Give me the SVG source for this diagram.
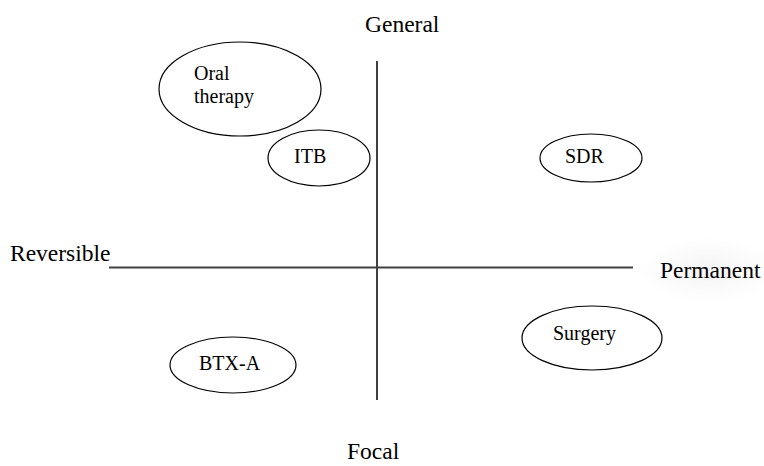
<svg xmlns="http://www.w3.org/2000/svg" width="764" height="466" viewBox="0 0 764 466">
<style>
text{font-family:"Liberation Serif","Times New Roman",serif;fill:#000}
.node{font-size:20px}
.axis{font-size:23.5px}
ellipse.n{fill:#fff;stroke:#000;stroke-width:1.2}
line{stroke:#404040;stroke-width:2}
</style>
<defs>
<radialGradient id="glow" cx="50%" cy="50%" r="50%">
<stop offset="0" stop-color="#f4f4f4"/>
<stop offset="1" stop-color="#ffffff"/>
</radialGradient>
</defs>
<rect width="764" height="466" fill="#fff"/>
<g id="connectors">
<line x1="109" y1="267.5" x2="633" y2="267.5"/>
<line x1="377" y1="61" x2="377" y2="400"/>
</g>
<g id="axis-labels">
<text class="axis" x="365" y="32">General</text>
<text class="axis" x="347" y="459">Focal</text>
<text class="axis" x="10" y="261">Reversible</text>
<ellipse cx="708" cy="270" rx="70" ry="32" fill="url(#glow)"/>
<text class="axis" x="660" y="278">Permanent</text>
</g>
<g id="oral-therapy">
<ellipse class="n" cx="240" cy="89" rx="81" ry="47"/>
<text class="node" x="194" y="80">Oral</text>
<text class="node" x="194" y="103">therapy</text>
</g>
<g id="itb">
<ellipse class="n" cx="319" cy="158" rx="51" ry="28"/>
<text class="node" x="294" y="163">ITB</text>
</g>
<g id="sdr">
<ellipse class="n" cx="591" cy="158" rx="51" ry="24"/>
<text class="node" x="565" y="163">SDR</text>
</g>
<g id="surgery">
<ellipse class="n" cx="592" cy="338" rx="70" ry="32"/>
<text class="node" x="553" y="340">Surgery</text>
</g>
<g id="btx-a">
<ellipse class="n" cx="233" cy="365" rx="63" ry="28"/>
<text class="node" x="199" y="370">BTX-A</text>
</g>
</svg>
